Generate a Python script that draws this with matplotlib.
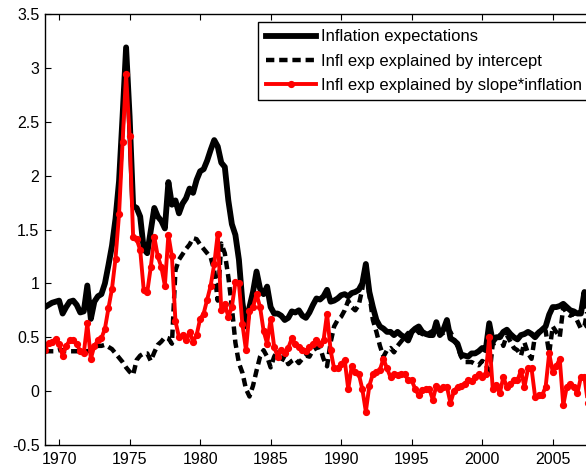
import numpy as np
import matplotlib
matplotlib.use("Agg")
import matplotlib.pyplot as plt
from matplotlib.ticker import FormatStrFormatter

# quarterly dates, 1969Q1 .. 2008Q1
dates = np.arange(1969.0, 2008.01, 0.25)

infl_exp = [
    0.78, 0.80, 0.82, 0.83,  0.84, 0.72, 0.78, 0.83,  0.84, 0.80, 0.73, 0.74,  # 69-71
    0.98, 0.67, 0.83, 0.88,  0.90, 1.00, 1.17, 1.35,  1.60, 1.95, 2.55, 3.19,  # 72-74
    2.55, 1.72, 1.70, 1.62,  1.32, 1.28, 1.49, 1.70,  1.62, 1.58, 1.51, 1.94,  # 75-77
    1.73, 1.77, 1.65, 1.74,  1.79, 1.88, 1.84, 1.96,  2.04, 2.06, 2.14, 2.24,  # 78-80
    2.33, 2.27, 2.12, 2.08,  1.77, 1.55, 1.45, 1.22,  0.82, 0.60, 0.78, 0.92,  # 81-83
    1.11, 0.95, 0.90, 0.97,  0.78, 0.72, 0.72, 0.70,  0.66, 0.68, 0.74, 0.73,  # 84-86
    0.75, 0.70, 0.68, 0.73,  0.80, 0.86, 0.85, 0.88,  0.94, 0.83, 0.84, 0.86,  # 87-89
    0.89, 0.90, 0.88, 0.91,  0.92, 0.94, 1.00, 1.18,  0.92, 0.78, 0.66, 0.60,  # 90-92
    0.58, 0.55, 0.55, 0.52,  0.55, 0.52, 0.50, 0.47,  0.55, 0.58, 0.60, 0.55,  # 93-95
    0.53, 0.52, 0.52, 0.64,  0.52, 0.57, 0.66, 0.49,  0.47, 0.44, 0.34, 0.33,  # 96-98
    0.32, 0.35, 0.35, 0.37,  0.40, 0.38, 0.63, 0.46,  0.50, 0.50, 0.55, 0.57,  # 99-01
    0.53, 0.50, 0.48, 0.52,  0.53, 0.55, 0.53, 0.50,  0.54, 0.57, 0.60, 0.71,  # 02-04
    0.78, 0.78, 0.79, 0.81,  0.78, 0.75, 0.74, 0.72,  0.72, 0.92, 0.75, 0.78,  # 05-07
    0.80,
]

intercept_part = [
    0.37, 0.37, 0.37, 0.37,  0.38, 0.38, 0.37, 0.37,  0.37, 0.37, 0.37, 0.37,
    0.37, 0.38, 0.41, 0.42,  0.42, 0.43, 0.41, 0.39,  0.35, 0.31, 0.27, 0.22,
    0.18, 0.15, 0.29, 0.33,  0.35, 0.35, 0.28, 0.36,  0.43, 0.46, 0.50, 0.49,
    0.44, 1.12, 1.22, 1.27,  1.32, 1.36, 1.42, 1.41,  1.36, 1.32, 1.28, 1.24,
    1.12, 0.84, 1.37, 1.28,  1.06, 0.78, 0.45, 0.26,  0.17, 0.02, -0.05, 0.05,
    0.19, 0.32, 0.38, 0.32,  0.22, 0.32, 0.38, 0.27,  0.33, 0.25, 0.28, 0.30,
    0.26, 0.30, 0.33, 0.32,  0.38, 0.40, 0.41, 0.30,  0.23, 0.45, 0.60, 0.66,
    0.69, 0.75, 0.84, 0.78,  0.75, 0.80, 0.95, 1.18,  0.90, 0.66, 0.55, 0.42,
    0.32, 0.38, 0.40, 0.36,  0.42, 0.46, 0.50, 0.54,  0.52, 0.52, 0.55, 0.53,
    0.52, 0.54, 0.56, 0.58,  0.52, 0.54, 0.58, 0.55,  0.48, 0.42, 0.32, 0.27,
    0.27, 0.27, 0.25, 0.24,  0.28, 0.26, 0.13, 0.44,  0.45, 0.52, 0.42, 0.52,
    0.46, 0.40, 0.38, 0.33,  0.45, 0.35, 0.30, 0.52,  0.55, 0.58, 0.56, 0.35,
    0.60, 0.55, 0.50, 0.78,  0.72, 0.70, 0.72, 0.65,  0.58, 0.60, 0.78, 0.62,
    0.60,
]

slope_part = [
    0.38, 0.45, 0.46, 0.48,  0.44, 0.33, 0.42, 0.47,  0.47, 0.44, 0.37, 0.35,
    0.63, 0.30, 0.42, 0.47,  0.49, 0.58, 0.77, 0.95,  1.23, 1.64, 2.31, 2.94,
    2.37, 1.43, 1.41, 1.31,  0.94, 0.92, 1.15, 1.43,  1.25, 1.15, 0.98, 1.45,
    1.25, 0.65, 0.50, 0.52,  0.47, 0.55, 0.46, 0.52,  0.67, 0.72, 0.85, 0.98,
    1.18, 1.46, 0.75, 0.81,  0.69, 0.78, 1.01, 1.00,  0.62, 0.38, 0.74, 0.78,
    0.90, 0.78, 0.56, 0.44,  0.67, 0.41, 0.32, 0.38,  0.35, 0.40, 0.49, 0.44,
    0.41, 0.38, 0.37, 0.41,  0.44, 0.47, 0.44, 0.47,  0.72, 0.38, 0.21, 0.21,
    0.25, 0.29, 0.02, 0.23,  0.18, 0.16, 0.02, -0.19,  0.05, 0.16, 0.18, 0.20,
    0.30, 0.21, 0.13, 0.16,  0.15, 0.16, 0.16, 0.10,  0.10, 0.02, -0.04, 0.01,
    0.02, 0.02, -0.08, 0.05,  0.02, 0.04, 0.04, -0.11,  0.00, 0.04, 0.05, 0.07,
    0.10, 0.09, 0.13, 0.16,  0.13, 0.16, 0.50, 0.02,  0.06, -0.02, 0.13, 0.04,
    0.07, 0.10, 0.10, 0.19,  0.04, 0.21, 0.21, -0.05,  -0.04, -0.04, 0.04, 0.35,
    0.18, 0.23, 0.30, -0.13,  0.04, 0.07, 0.04, -0.02,  0.13, 0.13, -0.11, 0.05,
    0.10,
]

labels = ['Inflation expectations',
          'Infl exp explained by intercept',
          'Infl exp explained by slope*inflation']

plt.rcParams['font.family'] = ['Liberation Sans', 'DejaVu Sans']
plt.rcParams['axes.unicode_minus'] = False
plt.rcParams['lines.scale_dashes'] = False

fig = plt.figure(figsize=(5.86, 4.69), dpi=100)
# axes runs past the right edge of the picture, like the cropped original
ax = fig.add_axes([45/586, 24/469, 550/586, 431/469])

ax.plot(dates, infl_exp, '-', color='k', lw=4.2, label=labels[0])
ax.plot(dates, intercept_part, '--', color='k', lw=3.2, dashes=(6, 3.5),
        label=labels[1])
ax.plot(dates, slope_part, '-', color='red', lw=2.8, marker='o', ms=4.2,
        mec='red', mfc='red', label=labels[2])

ax.set_xlim(1969, 2008)
ax.set_ylim(-0.5, 3.5)
ax.set_xticks(np.arange(1970, 2010, 5))
ax.set_yticks(np.arange(-0.5, 3.51, 0.5))
ax.yaxis.set_major_formatter(FormatStrFormatter('%g'))
ax.tick_params(direction='in', length=4, width=0.8, top=True, right=True,
               labelsize=11.5, colors='k')
ax.tick_params(axis='x', pad=5)
ax.tick_params(axis='y', pad=4)
for s in ax.spines.values():
    s.set_linewidth(1.0)

leg = ax.legend(loc='upper left', bbox_to_anchor=(258/586, (469-22)/469),
                bbox_transform=fig.transFigure, borderaxespad=0,
                fontsize=12, fancybox=False, framealpha=1, edgecolor='k',
                numpoints=1, handlelength=3.0, handletextpad=0.35,
                borderpad=0.45, labelspacing=0.55)
leg.get_frame().set_linewidth(1.0)

fig.savefig('out.png', dpi=100)
